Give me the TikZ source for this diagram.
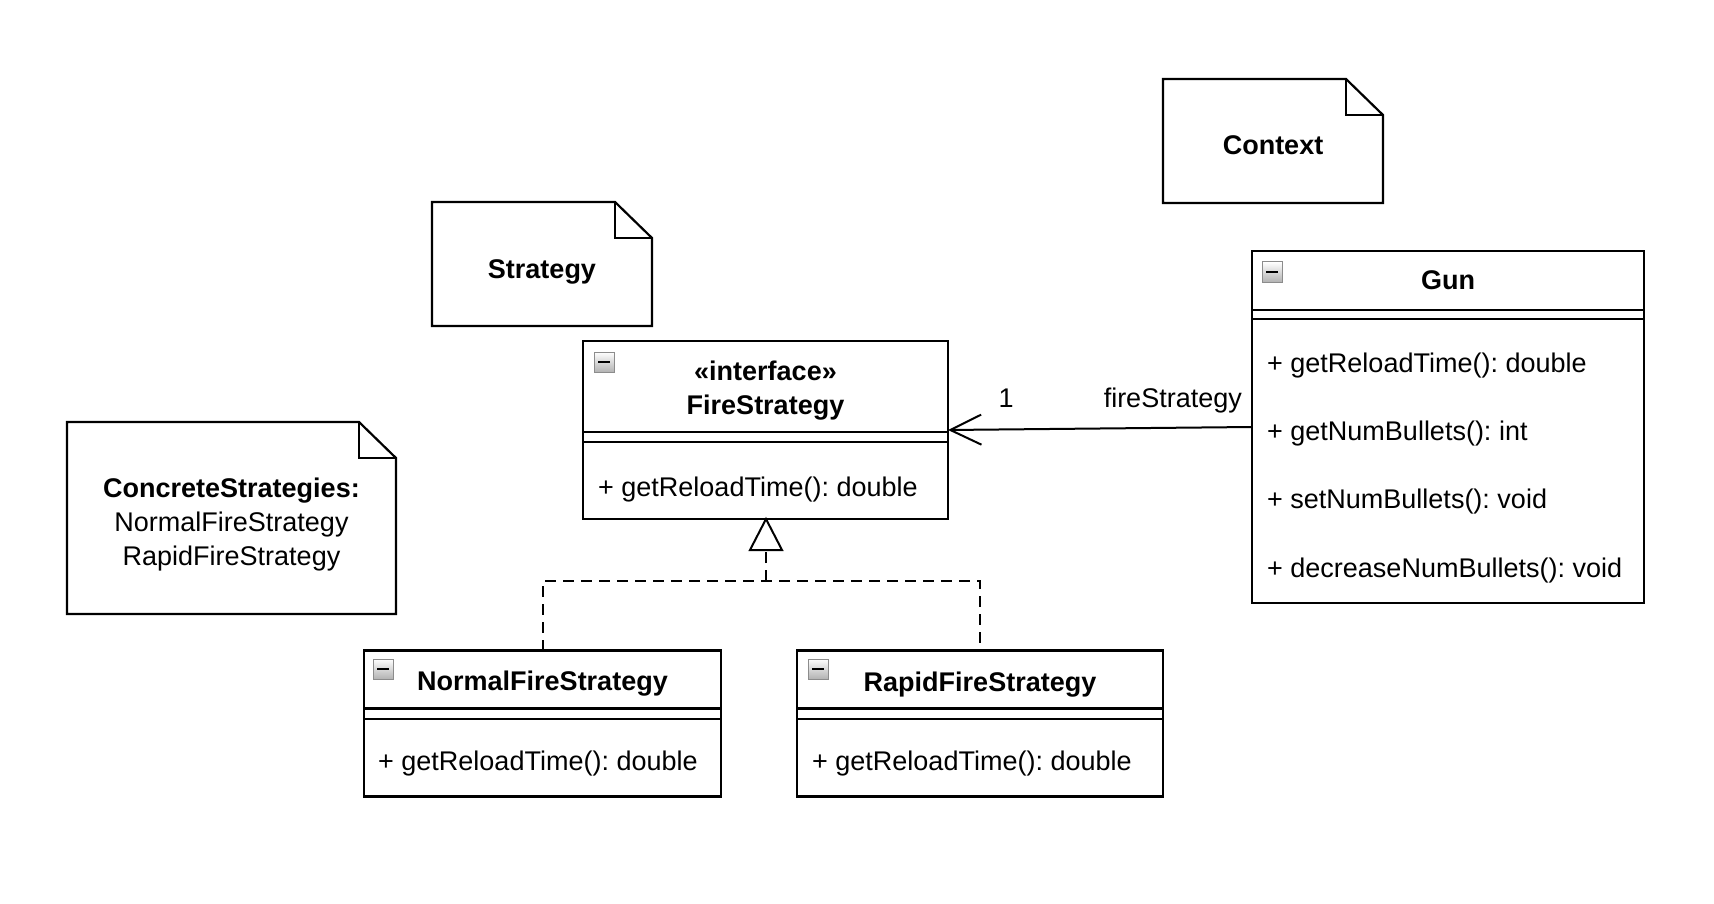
\documentclass[tikz,border=0pt]{standalone}
\usepackage{fontspec}
\setmainfont{Liberation Sans}
\usetikzlibrary{arrows.meta}
\frenchspacing
\begin{document}
\begin{tikzpicture}[x=1pt,y=-1pt,line join=miter,
  box/.style={draw,line width=2.2pt,anchor=north west,inner sep=0pt,outer sep=0pt},
  ghost/.style={anchor=north west,inner sep=0pt,outer sep=0pt},
  sep/.style={line width=2.2pt},
  notel/.style={line width=2.2pt},
  txt/.style={inner sep=0pt,anchor=base,font=\fontsize{27}{33}\selectfont},
  txtl/.style={inner sep=0pt,anchor=base west,font=\fontsize{27}{33}\selectfont},
  btxt/.style={inner sep=0pt,anchor=base,font=\fontsize{27}{33}\selectfont\bfseries},
  minusbox/.style={draw=black!45,line width=1pt,anchor=north west,inner sep=0pt,outer sep=0pt,
    minimum width=20pt,minimum height=20pt,top color=white,bottom color=black!30},
  realize/.style={line width=2pt,dash pattern=on 11pt off 7pt},
  assoc/.style={line width=2pt,-{Straight Barb[length=31pt,width=30pt,line width=2pt]}}
]
\useasboundingbox (0,0) rectangle (1714,904);

% ---------- notes ----------
% Context
\node[ghost,minimum width=220pt,minimum height=124pt] (ctx) at (1163,79) {};
\draw[notel] (ctx.north west) -- ([xshift=-37pt]ctx.north east) -- ([yshift=-36pt]ctx.north east)
  -- (ctx.south east) -- (ctx.south west) -- cycle;
\draw[notel] ([xshift=-37pt]ctx.north east) -- ([xshift=-37pt,yshift=-36pt]ctx.north east) -- ([yshift=-36pt]ctx.north east);
\node[btxt] (ctxt) at (1273,155) {Context};

% Strategy
\node[ghost,minimum width=220pt,minimum height=124pt] (stn) at (432,202) {};
\draw[notel] (stn.north west) -- ([xshift=-37pt]stn.north east) -- ([yshift=-36pt]stn.north east)
  -- (stn.south east) -- (stn.south west) -- cycle;
\draw[notel] ([xshift=-37pt]stn.north east) -- ([xshift=-37pt,yshift=-36pt]stn.north east) -- ([yshift=-36pt]stn.north east);
\node[btxt] (stxt) at (542,278) {Strategy};

% ConcreteStrategies
\node[ghost,minimum width=329pt,minimum height=192pt] (csn) at (67,422) {};
\draw[notel] (csn.north west) -- ([xshift=-37pt]csn.north east) -- ([yshift=-36pt]csn.north east)
  -- (csn.south east) -- (csn.south west) -- cycle;
\draw[notel] ([xshift=-37pt]csn.north east) -- ([xshift=-37pt,yshift=-36pt]csn.north east) -- ([yshift=-36pt]csn.north east);
\node[btxt] (cs1) at (231.5,497) {ConcreteStrategies:};
\node[txt] (cs2) at (231.5,531) {NormalFireStrategy};
\node[txt] (cs3) at (231.5,565) {RapidFireStrategy};

% ---------- FireStrategy ----------
\node[box,minimum width=365pt,minimum height=178pt] (fs) at (583,341) {};
\draw[sep] ([yshift=-91pt]fs.north west) -- ([yshift=-91pt]fs.north east);
\draw[sep] ([yshift=-101pt]fs.north west) -- ([yshift=-101pt]fs.north east);
\node[minusbox] (fsm) at (594,352) {};
\draw[line width=2.5pt] ([xshift=4pt]fsm.west) -- ([xshift=-4pt]fsm.east);
\node[btxt] (fst1) at (765.5,380) {«interface»};
\node[btxt] (fst2) at (765.5,414) {FireStrategy};
\node[txtl] (fsa) at (598,496) {+ getReloadTime(): double};

% ---------- Gun ----------
\node[box,minimum width=392pt,minimum height=352pt] (gun) at (1252,251) {};
\draw[sep] ([yshift=-59pt]gun.north west) -- ([yshift=-59pt]gun.north east);
\draw[sep] ([yshift=-68pt]gun.north west) -- ([yshift=-68pt]gun.north east);
\node[minusbox] (gunm) at (1262,262) {};
\draw[line width=2.5pt] ([xshift=4pt]gunm.west) -- ([xshift=-4pt]gunm.east);
\node[btxt] (gunt) at (1448,290) {Gun};
\node[txtl] (g1) at (1267,372) {+ getReloadTime(): double};
\node[txtl] (g2) at (1267,440) {+ getNumBullets(): int};
\node[txtl] (g3) at (1267,508) {+ setNumBullets(): void};
\node[txtl] (g4) at (1267,577) {+ decreaseNumBullets(): void};

% ---------- NormalFireStrategy ----------
\node[box,minimum width=357pt,minimum height=146pt] (nfs) at (364,650.5) {};
\draw[sep] ([yshift=-58pt]nfs.north west) -- ([yshift=-58pt]nfs.north east);
\draw[sep] ([yshift=-68.5pt]nfs.north west) -- ([yshift=-68.5pt]nfs.north east);
\node[minusbox] (nfsm) at (373,659) {};
\draw[line width=2.5pt] ([xshift=4pt]nfsm.west) -- ([xshift=-4pt]nfsm.east);
\node[btxt] (nfst) at (542.5,690) {NormalFireStrategy};
\node[txtl] (nfsa) at (378,770) {+ getReloadTime(): double};

% ---------- RapidFireStrategy ----------
\node[box,minimum width=366pt,minimum height=146pt] (rfs) at (797,650.5) {};
\draw[sep] ([yshift=-58pt]rfs.north west) -- ([yshift=-58pt]rfs.north east);
\draw[sep] ([yshift=-68.5pt]rfs.north west) -- ([yshift=-68.5pt]rfs.north east);
\node[minusbox] (rfsm) at (808,659) {};
\draw[line width=2.5pt] ([xshift=4pt]rfsm.west) -- ([xshift=-4pt]rfsm.east);
\node[btxt] (rfst) at (980,691) {RapidFireStrategy};
\node[txtl] (rfsa) at (812,770) {+ getReloadTime(): double};

% ---------- association ----------
\draw[assoc] (gun.west) -- (fs.east);
\node[txt] (m1) at (1006,407) {1};
\node[inner sep=0pt,anchor=base east,font=\fontsize{27}{33}\selectfont] (role) at (1242,407) {fireStrategy};

% ---------- realization ----------
\coordinate (jn) at (766,581);
\coordinate (tb) at (766,552);
\draw[realize] (nfs.north) |- (jn) -| (rfs.north);
\draw[realize] (jn) -- (tb);
\draw[line width=2pt] ([xshift=-15.5pt,yshift=-31pt]fs.south) -- ([xshift=0.5pt]fs.south)
  -- ([xshift=16.5pt,yshift=-31pt]fs.south) -- cycle;
\end{tikzpicture}
\end{document}
